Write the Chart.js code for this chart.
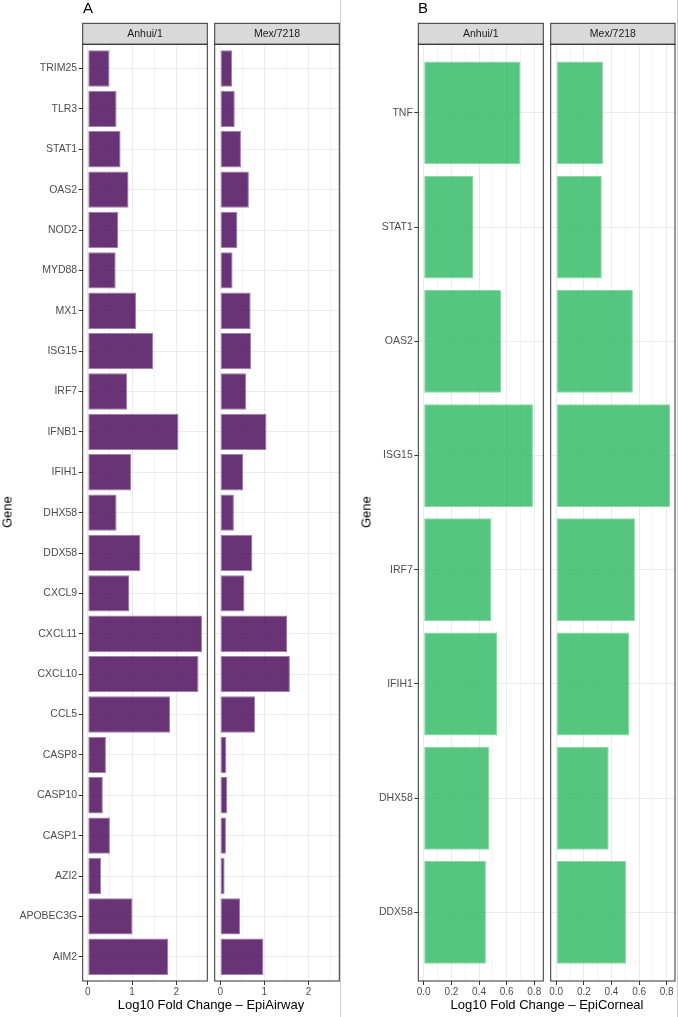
<!DOCTYPE html>
<html>
<head>
<meta charset="utf-8">
<script src="https://cdn.jsdelivr.net/npm/chart.js@4/dist/chart.umd.min.js"></script>
<style>
  html, body { margin: 0; padding: 0; background: #fff; overflow: hidden; }
  body { width: 678px; height: 1017px; position: relative; font-family: "Liberation Sans", Arial, sans-serif; }
  .box { position: absolute; top: 0; height: 1017px; }
  .txt { position: absolute; white-space: nowrap; color: #000; }
  .tag { font-size: 15px; top: -1px; }
  .xt { font-size: 13px; top: 997px; transform: translateX(-50%); }
  .yt { font-size: 13px; top: 512px; transform: translate(-50%, -50%) rotate(-90deg); }
  .sep { position: absolute; width: 1px; background: #cfcfcf; top: 0; height: 1017px; }
</style>
</head>
<body>
<div class="sep" style="left:340px"></div>
<div class="sep" style="left:677px"></div>

<div class="box" style="left:0px;width:209px"><canvas id="a1"></canvas></div>
<div class="box" style="left:212px;width:129px"><canvas id="a2"></canvas></div>
<div class="box" style="left:340px;width:205px"><canvas id="b1"></canvas></div>
<div class="box" style="left:548px;width:129px"><canvas id="b2"></canvas></div>

<div class="txt tag" style="left:83px">A</div>
<div class="txt tag" style="left:418px">B</div>
<div class="txt yt" style="left:7px">Gene</div>
<div class="txt yt" style="left:366px">Gene</div>
<div class="txt xt" style="left:211px">Log10 Fold Change – EpiAirway</div>
<div class="txt xt" style="left:547px">Log10 Fold Change – EpiCorneal</div>

<script>
// EpiAirway (panel A)
const genesA = ["TRIM25", "TLR3", "STAT1", "OAS2", "NOD2", "MYD88", "MX1", "ISG15", "IRF7", "IFNB1",
  "IFIH1", "DHX58", "DDX58", "CXCL9", "CXCL11", "CXCL10", "CCL5", "CASP8", "CASP10", "CASP1",
  "AZI2", "APOBEC3G", "AIM2"];
const airwayAnhui = [0.49, 0.65, 0.74, 0.92, 0.69, 0.63, 1.09, 1.48, 0.89, 2.05,
  0.98, 0.65, 1.19, 0.94, 2.58, 2.50, 1.86, 0.41, 0.34, 0.50,
  0.30, 1.01, 1.82];
const airwayMex = [0.27, 0.33, 0.47, 0.65, 0.39, 0.28, 0.69, 0.70, 0.59, 1.05,
  0.52, 0.31, 0.73, 0.55, 1.52, 1.58, 0.79, 0.14, 0.16, 0.13,
  0.10, 0.45, 0.98];

// EpiCorneal (panel B)
const genesB = ["TNF", "STAT1", "OAS2", "ISG15", "IRF7", "IFIH1", "DHX58", "DDX58"];
const cornealAnhui = [0.70, 0.36, 0.56, 0.79, 0.49, 0.53, 0.475, 0.45];
const cornealMex = [0.34, 0.33, 0.555, 0.825, 0.57, 0.53, 0.38, 0.505];

const ticksA = [0, 1, 2];
const minorA = [0.5, 1.5, 2.5];
const ticksB = [0, 0.2, 0.4, 0.6, 0.8];
const minorB = [0.1, 0.3, 0.5, 0.7];

Chart.defaults.font.family = "'Liberation Sans', Arial, sans-serif";

// strip on top + border round the panel, like ggplot facets
const facetPlugin = {
  id: "facet",
  afterDraw(chart, args, opts) {
    const { ctx, chartArea: a } = chart;
    ctx.save();
    ctx.fillStyle = "#d9d9d9";
    ctx.fillRect(a.left, 23.3, a.right - a.left, a.top - 23.3);
    ctx.strokeStyle = "#333";
    ctx.lineWidth = 1;
    ctx.strokeRect(a.left, 23.3, a.right - a.left, a.top - 23.3);
    ctx.strokeRect(a.left, a.top, a.right - a.left, a.bottom - a.top);
    ctx.fillStyle = "#1a1a1a";
    ctx.font = "10.5px 'Liberation Sans', Arial, sans-serif";
    ctx.textAlign = "center";
    ctx.textBaseline = "middle";
    ctx.fillText(opts.label, (a.left + a.right) / 2, (23.3 + a.top) / 2 + 0.5);
    ctx.restore();
  }
};

function makePanel(id, cfg) {
  const major = cfg.major;
  const all = major.concat(cfg.minor).sort((p, q) => p - q);
  const isMajor = v => major.some(m => Math.abs(m - v) < 1e-9);
  const n = cfg.genes.length;

  return new Chart(document.getElementById(id), {
    type: "bar",
    data: {
      datasets: [{
        data: cfg.values.map((v, i) => ({ x: v, y: i })),
        backgroundColor: cfg.color,
        borderColor: cfg.edge,
        borderWidth: 1,
        borderSkipped: false,
        barPercentage: 0.9,
        categoryPercentage: 1.0
      }]
    },
    options: {
      indexAxis: "y",
      responsive: true,
      maintainAspectRatio: false,
      animation: false,
      layout: { padding: { top: 44.3, right: cfg.padRight, left: 0, bottom: 0 } },
      plugins: {
        legend: { display: false },
        tooltip: { enabled: false },
        facet: { label: cfg.label }
      },
      scales: {
        x: {
          type: "linear",
          min: cfg.xmin,
          max: cfg.xmax,
          afterBuildTicks: s => { s.ticks = all.map(v => ({ value: v })); },
          afterFit: s => { s.height = 36; },
          border: { display: false },
          grid: {
            color: "#ebebeb",
            lineWidth: c => isMajor(c.tick.value) ? 1 : 0.55,
            tickColor: c => isMajor(c.tick.value) ? "#333" : "rgba(0,0,0,0)",
            tickLength: 4,
            tickWidth: 1
          },
          ticks: {
            autoSkip: false,
            maxRotation: 0,
            padding: 1,
            color: "#4d4d4d",
            font: { size: 10 },
            callback: v => isMajor(v) ? v.toFixed(cfg.digits) : ""
          }
        },
        y: {
          type: "linear",
          reverse: true,
          offset: false,
          min: -0.6,
          max: n - 0.4,
          afterBuildTicks: s => { s.ticks = cfg.genes.map((g, i) => ({ value: i })); },
          afterFit: s => { s.width = cfg.yWidth; },
          border: { display: false },
          grid: {
            offset: false,
            color: "#ebebeb",
            lineWidth: 1,
            drawTicks: cfg.showY,
            tickColor: "#333",
            tickLength: 4
          },
          ticks: {
            display: cfg.showY,
            autoSkip: false,
            padding: 1.5,
            color: "#4d4d4d",
            font: { size: 10.5 },
            callback: v => cfg.genes[v]
          }
        }
      }
    },
    plugins: [facetPlugin]
  });
}

const purple = "rgba(68,1,84,0.8)";
const purpleEdge = "rgba(68,1,84,0.5)";
const green = "rgba(44,182,96,0.8)";
const greenEdge = "rgba(44,182,96,0.55)";

makePanel("a1", { genes: genesA, values: airwayAnhui, color: purple, edge: purpleEdge, label: "Anhui/1",
  major: ticksA, minor: minorA, xmin: -0.115, xmax: 2.70, digits: 0,
  yWidth: 82.7, padRight: 1.7, showY: true });
makePanel("a2", { genes: genesA, values: airwayMex, color: purple, edge: purpleEdge, label: "Mex/7218",
  major: ticksA, minor: minorA, xmin: -0.125, xmax: 2.70, digits: 0,
  yWidth: 2.7, padRight: 1.7, showY: false });
makePanel("b1", { genes: genesB, values: cornealAnhui, color: green, edge: greenEdge, label: "Anhui/1",
  major: ticksB, minor: minorB, xmin: -0.039, xmax: 0.865, digits: 1,
  yWidth: 78.3, padRight: 1.7, showY: true });
makePanel("b2", { genes: genesB, values: cornealMex, color: green, edge: greenEdge, label: "Mex/7218",
  major: ticksB, minor: minorB, xmin: -0.04, xmax: 0.86, digits: 1,
  yWidth: 2.7, padRight: 2, showY: false });
</script>
</body>
</html>
